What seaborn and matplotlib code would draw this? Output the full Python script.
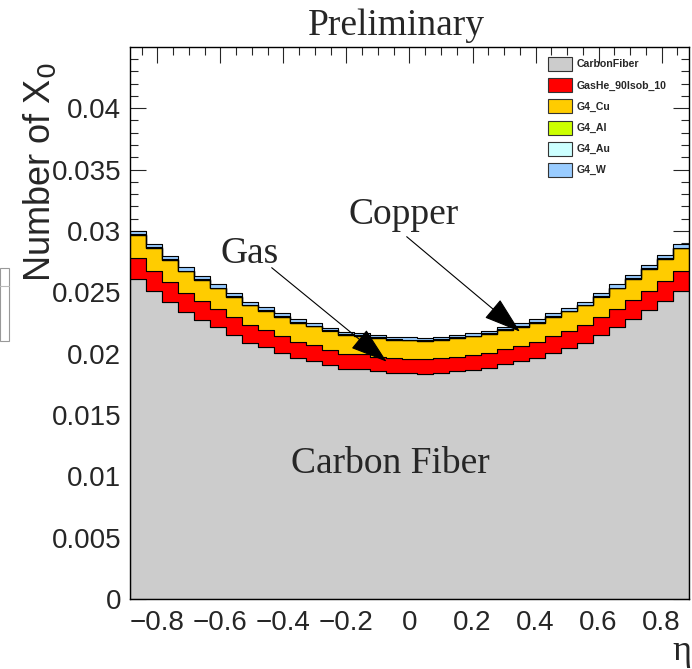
import numpy as np
import pandas as pd
import seaborn as sns
import matplotlib.pyplot as plt
from matplotlib.patches import Patch, Rectangle

## Data (Number of X0 per eta bin, 35 bins)
n_bins = 35
eta_lo, eta_hi = -0.888, 0.888

carbon_fiber = [0.02605, 0.02511, 0.02425, 0.02339, 0.02278, 0.02215, 0.02154,
                0.02091, 0.02052, 0.02008, 0.01965, 0.01941, 0.01908, 0.01879,
                0.01874, 0.01858, 0.01845, 0.01841, 0.01837, 0.01845, 0.01858,
                0.01869, 0.01885, 0.01916, 0.01937, 0.01965, 0.02008, 0.02049,
                0.02091, 0.02155, 0.02215, 0.02284, 0.02357, 0.02431, 0.02509]
gas = [0.00171, 0.00165, 0.00161, 0.00157, 0.00153, 0.00149, 0.00145, 0.00141,
       0.00137, 0.00134, 0.00130, 0.00127, 0.00125, 0.00122, 0.00120, 0.00118,
       0.00117, 0.00117, 0.00117, 0.00117, 0.00118, 0.00120, 0.00122, 0.00125,
       0.00127, 0.00130, 0.00134, 0.00137, 0.00141, 0.00145, 0.00149, 0.00153,
       0.00157, 0.00161, 0.00165]
copper = [0.00190, 0.00184, 0.00179, 0.00175, 0.00171, 0.00168, 0.00164, 0.00162,
          0.00160, 0.00158, 0.00156, 0.00155, 0.00154, 0.00153, 0.00152, 0.00151,
          0.00151, 0.00151, 0.00151, 0.00151, 0.00151, 0.00152, 0.00153, 0.00154,
          0.00155, 0.00156, 0.00158, 0.00160, 0.00162, 0.00164, 0.00168, 0.00171,
          0.00175, 0.00179, 0.00184]
aluminium = [0.00002] * n_bins
gold = [0.00003] * n_bins
tungsten = [0.00028, 0.00028, 0.00028, 0.00028, 0.00028, 0.00028, 0.00024, 0.00024,
            0.00024, 0.00024, 0.00024, 0.00024, 0.00020, 0.00020, 0.00020, 0.00020,
            0.00020, 0.00020, 0.00020, 0.00020, 0.00020, 0.00020, 0.00020, 0.00020,
            0.00024, 0.00024, 0.00024, 0.00024, 0.00024, 0.00028, 0.00028, 0.00028,
            0.00028, 0.00028, 0.00028]

materials = ['CarbonFiber', 'GasHe_90Isob_10', 'G4_Cu', 'G4_Al', 'G4_Au', 'G4_W']
colors = ['#cccccc', '#ff0000', '#ffcc00', '#ccff00', '#ccffff', '#99ccff']

y_ticks = [0, 0.005, 0.01, 0.015, 0.02, 0.025, 0.03, 0.035, 0.04]
y_tick_labels = ['0', '0.005', '0.01', '0.015', '0.02', '0.025', '0.03', '0.035', '0.04']
x_ticks = [-0.8, -0.6, -0.4, -0.2, 0, 0.2, 0.4, 0.6, 0.8]
x_tick_labels = ['\u22120.8', '\u22120.6', '\u22120.4', '\u22120.2', '0', '0.2', '0.4', '0.6', '0.8']

edges = np.linspace(eta_lo, eta_hi, n_bins + 1)
centers = 0.5 * (edges[:-1] + edges[1:])
values = [carbon_fiber, gas, copper, aluminium, gold, tungsten]
df = pd.concat([pd.DataFrame({'eta': centers, 'x0': v, 'material': m})
                for m, v in zip(materials, values)], ignore_index=True)

sans = ['Liberation Sans', 'DejaVu Sans']
serif = ['Liberation Serif', 'DejaVu Serif']

sns.set_style('ticks')
plt.rcParams['font.family'] = sans

fig = plt.figure(figsize=(6.92, 6.69), dpi=100)
ax = fig.add_axes([129.7 / 692, 1 - 599.3 / 669, (689.3 - 129.7) / 692, (599.3 - 46.7) / 669])

# seaborn puts the first hue level on top of the stack
sns.histplot(data=df, x='eta', weights='x0', hue='material', hue_order=materials[::-1],
             palette=dict(zip(materials, colors)), bins=list(edges), multiple='stack',
             element='step', fill=True, alpha=1, edgecolor='black', linewidth=0.8,
             legend=False, ax=ax)

ax.set_xlim(eta_lo, eta_hi)
ax.set_ylim(0, 0.045)
ax.set_xticks(x_ticks)
ax.set_xticklabels(x_tick_labels)
ax.set_yticks(y_ticks)
ax.set_yticklabels(y_tick_labels)
ax.set_xticks(np.arange(-0.85, 0.86, 0.05), minor=True)
ax.set_yticks(np.arange(0, 0.045, 0.001), minor=True)
ax.tick_params(which='both', direction='in', top=True, right=True, width=0.8,
               labelsize=20)
ax.tick_params(axis='x', pad=8)
ax.tick_params(axis='y', pad=6)
ax.tick_params(which='major', length=11.5)
ax.tick_params(which='minor', length=5.8)
for s in ax.spines.values():
    s.set_linewidth(1)
    s.set_color('black')
ax.set_xlabel('')
ax.set_ylabel('')

fig.text(40 / 692, 1 - 62 / 669, 'Number of X$_0$', rotation=90, ha='center', va='top',
         fontsize=26)
fig.text(691 / 692, 1 - 660 / 669, '\u03b7', ha='right', va='baseline', fontsize=26,
         family=serif)
fig.text(396 / 692, 1 - 35 / 669, 'Preliminary', ha='center', va='baseline',
         fontsize=27, family=serif)

# annotations
fig.text(403.5 / 692, 1 - 224.3 / 669, 'Copper', ha='center', va='baseline', fontsize=27,
         family=serif)
fig.text(250 / 692, 1 - 263.3 / 669, 'Gas', ha='center', va='baseline', fontsize=27,
         family=serif)
fig.text(390 / 692, 1 - 473.3 / 669, 'Carbon Fiber', ha='center', va='baseline',
         fontsize=27, family=serif)
arrow = dict(arrowstyle='-|>,head_length=2.39,head_width=0.777', mutation_scale=10,
             color='black', lw=0.8, shrinkA=0, shrinkB=0)
ax.annotate('', xy=(520 / 692, 1 - 331.7 / 669), xytext=(406.7 / 692, 1 - 236.7 / 669),
            xycoords='figure fraction', textcoords='figure fraction', arrowprops=arrow)
ax.annotate('', xy=(386.7 / 692, 1 - 361.7 / 669), xytext=(271.7 / 692, 1 - 267.7 / 669),
            xycoords='figure fraction', textcoords='figure fraction', arrowprops=arrow)

# legend
handles = [Patch(facecolor=c, edgecolor='#333333', linewidth=0.8) for c in colors]
fig.legend(handles, materials, loc='upper left', bbox_to_anchor=(548 / 692, 1 - 57 / 669),
           frameon=False, borderpad=0, borderaxespad=0,
           prop={'weight': 'bold', 'size': 7.6}, handlelength=2.27, handleheight=1.665,
           labelspacing=0.68, handletextpad=0.47)

# cut-off box at the left edge
fig.add_artist(Rectangle((0, 1 - 341 / 669), 9 / 692, 73 / 669, transform=fig.transFigure,
                         facecolor='white', edgecolor='#999999', linewidth=0.8))
fig.add_artist(plt.Line2D([0, 9 / 692], [1 - 286 / 669] * 2, transform=fig.transFigure,
                          color='#bbbbbb', linewidth=0.8))

fig.savefig('out.png', dpi=100)
